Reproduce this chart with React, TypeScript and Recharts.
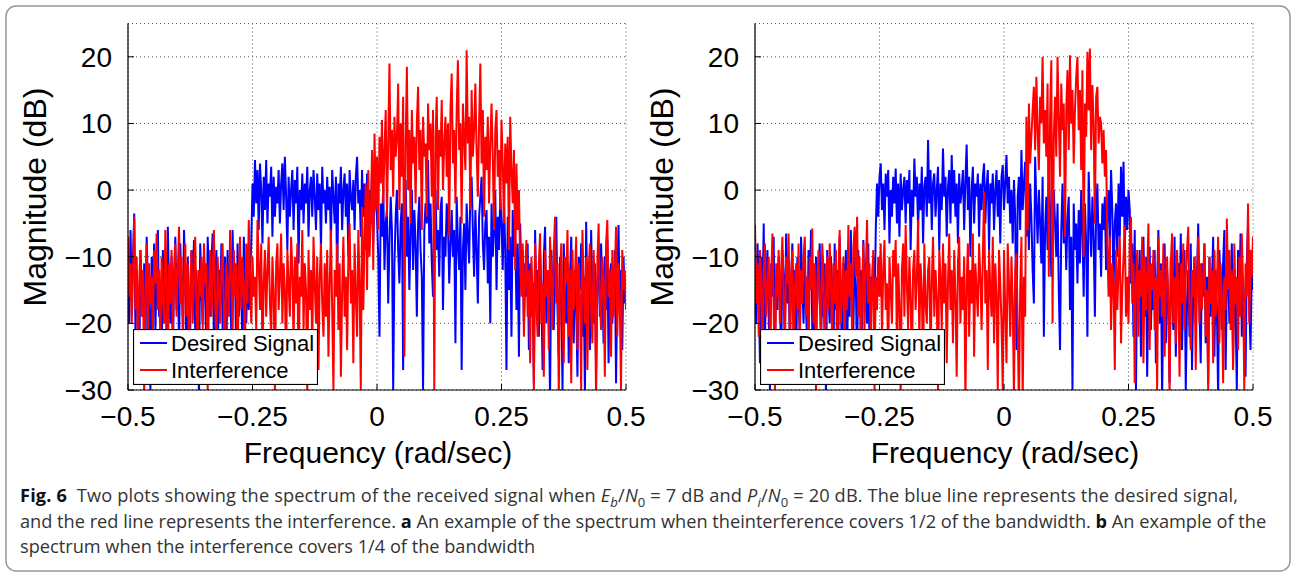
import React from "react";
import { CartesianGrid, Legend, Line, LineChart, XAxis, YAxis } from "recharts";

// frequency grid: -0.5 .. 0.5 rad/sec, 401 bins (each row below = 20 bins = 0.05)
const FREQ_START = -0.5;
const FREQ_STEP = 0.0025;
const X_TICKS = [-0.5, -0.25, 0, 0.25, 0.5];
const Y_TICKS = [-30, -20, -10, 0, 10, 20];

// (a) interference covers 1/2 of the bandwidth
const desiredA = [
  -13, -20, -6, -16, -10, -3.5, -22, -12, -17, -28, -9, -15, -19, -11, -25, -7, -14, -18, -30, -10,
  -16, -8, -21, -12, -6, -19, -14, -27, -9, -17, -11, -23, -5.5, -15, -20, -10, -26, -13, -7, -18,
  -11, -24, -8, -15, -19, -6, -13, -29, -10, -17, -21, -9, -14, -7.5, -22, -12, -18, -31, -8, -15,
  -20, -10, -16, -25, -7, -13, -19, -11, -6.5, -23, -14, -9, -28, -12, -17, -8, -21, -15, -10, -26,
  -9, -17, -13, -22, -6, -15, -11, -29, -8, -19, -12, -16, -24, -7, -14, -20, -10, -18, -13, -8,
  1, -4, 4.5, -2, 3, -6, 4, 0, -8, 2, -3, 4.5, -5, 1, -1, 3.5, -7, 2, -4, 0.5,
  -2, 3, -5, 1, 4, -3, 5, -1, -9, 2, -4, 0, 3, -6, 1.5, -2, 3.5, -11, 0, -3,
  2.5, -5, 1, -2, 3.5, -7, 0, 2, -4, 3, -1, -6, 2.5, -3, 1, -9, 3.5, -2, 0, -5,
  2, -3, 0.5, -8, 3, -1, -5, 2, -14, 1, -2, 3.5, -6, 0, 2.5, -4, 1, -10, 3, -1,
  -3, 1.5, -6, 2, 5, -2, 0, -7, 3, -4, 1, -9, 2.5, -3, 0, -5, 3, -8, 1, -2,
  -4, -10, -22, -2, -7, 1, -12, -5, -3, -17, -8, -1, -6, -30, -11, -4, 0, -9, -14, -5,
  -2, -27, -7, 1.5, -10, -4, -15, -6, 0, -12, -3, -8, -19, -5, -1, -9, -13, -30, -6, -2,
  -5, 4.5, -8, -2, -11, -16, -4, 0, -9, -6, -13, -3, -1, -18, -7, -10, -2, -5, -14, -8,
  -3, -10, -6, -23, -1, -8, -12, -4, -27, -9, -5, -15, -2, -7, -11, 0, 2, -6, -13, -3,
  -9, -17, -4, -1, 2, -8, -12, -5, -3, -14, -7, -20, -2, -10, -6, 0, -15, -4, -9, -1,
  -5, -12, -1.5, -9, -27, -4, -15, -7, -22, -3, -10, -6, -18, -8, -25, -5, -13, -9, -20, -11,
  -16, -8, -24, -11, -19, -14, -29, -6, -17, -12, -22, -9, -15, -27, -10, -5.5, -20, -13, -18, -31,
  -9, -15, -21, -12, -4, -18, -25, -10, -14, -30, -8, -16, -20, -11, -26, -13, -7, -19, -23, -12,
  -17, -28, -10, -15, -8, -22, -13, -31, -4.75, -18, -12, -24, -6, -16, -20, -11, -27, -14, -9, -19,
  -8, -15, -23, -10, -18, -7.5, -26, -13, -11, -20, -16, -9, -29, -14, -5.25, -19, -12, -24, -10, -17,
  -13,
];

const interferenceA = [
  -7, -16, -11, -20, -13, -4, -18, -10, -26, -14, -9, -19, -12, -31, -15, -8, -21, -11, -17, -13,
  -22, -9, -14, -6.5, -18, -12, -24, -10, -16, -20, -6, -13, -29, -11, -17, -9, -21, -14, -8, -19,
  -12, -5.5, -17, -10, -23, -14, -8, -19, -11, -27, -15, -9, -20, -13, -7, -18, -25, -12, -16, -10,
  -21, -8, -14, -11, -30, -16, -9, -19, -13, -6, -17, -24, -10, -15, -20, -12, -8, -18, -26, -11,
  -14, -19, -6, -12, -22, -9, -16, -11, -28, -13, -7, -18, -10, -15, -23, -8, -17, -4.5, -12, -20,
  -10, -16, -13, -21, -4.5, -11, -18, -8, -25, -14, -9, -19, -12, -7, -17, -22, -10, -15, -30, -11,
  -8, -18, -13, -6.5, -20, -11, -15, -26, -9, -14, -19, -7, -12, -23, -10, -17, -8, -29, -13, -16,
  -6, -21, -11, -15, -31, -9, -18, -12, -24, -7, -14, -20, -10, -27, -13, -8, -17, -22, -11, -19,
  -9, -25, -14, -6, -18, -30, -12, -16, -8, -21, -11, -28, -15, -7, -19, -13, -24, -10, -5, -17,
  -12, -26, -8, -16, -22, -6, -14, -30, -2.5, -18, -7, 1, -15, 3, -10, -4, 6, -12, 8.5, -3,
  5, -6, 8, 1, 10.5, -2, 6, 12, -4, 7, 19, 3, 9, -1, 11, 5, 8, 16, -3, 10,
  2, 14, -25, 7, 18.5, 0, 9, -5, 12, 4, 8, -2, 10, 15.5, 3, 9, -6, 11, 5, 7,
  -4, 13, 6, 10, -1, 12, -30, 8, 14, -3, 9, 5, 13.5, 0, 7, 11, 2, 10, -7, 12,
  17.5, 4, 9, -2, 12, 19.5, 6, 10, -5, 13, 8, 3, 21, 7, 11, -3, 15, 5, 9, 16,
  6, -1, 10, 19, 4, 12, -4, 8, 3, 11, -2, 7, 13, 5, -6, 9, 12, 2, 6, -3,
  10.5, 4, -5, 7, 1, 8, -9, 11, 3, -2, 6, -12, 4, -6, 0, -11, -16, -8, -22, -13,
  -7.5, -19, -12, -26, -10, -15, -30, -8, -17, -22, -11, -6.5, -20, -14, -28, -9, -16, -12, -24, -7,
  -13, -21, -9, -4, -17, -11, -31, -15, -8, -19, -26, -10, -14, -6, -22, -12, -29, -9, -18, -13,
  -7, -24, -11, -16, -30, -6, -14, -20, -10, -27, -12, -8, -18, -23, -9, -15, -32, -11, -5, -17,
  -21, -10, -14, -28, -8, -4.5, -16, -12, -25, -9, -19, -13, -5.5, -22, -11, -17, -30, -9, -15, -12,
  -18,
];

// (b) interference covers 1/4 of the bandwidth
const desiredB = [
  -12, -20, -8, -15, -26, -10, -17, -5, -22, -13, -9, -19, -30, -11, -16, -7, -24, -14, -18, -10,
  -15, -27, -9, -13, -21, -6.5, -17, -11, -25, -14, -8, -19, -12, -29, -10, -16, -22, -7, -14, -20,
  -11, -18, -24, -9, -15, -6, -21, -13, -28, -10, -17, -12, -8, -23, -15, -19, -11, -31, -9, -16,
  -20, -10, -14, -26, -8, -18, -12, -22, -7, -16, -29, -11, -15, -9, -24, -13, -19, -6, -17, -21,
  -10, -14, -27, -9, -18, -12, -23, -7.5, -16, -11, -20, -8, -25, -13, -15, -10, -19, -6, 1, -4,
  2, 4, -3, 1, -6, 2.5, -1, 3, -8, 0, -4, 2, -2, 3.25, -5, 1, -7, 2.5, -3, 0,
  2, -5, 1.5, -2, 3, -9, 0, -4, 4.75, -1, 2, -6, 1, -3, 3.5, -8, 0.5, 2, -4, 7.5,
  -2, 3, -6, 1, 2.5, -4, 0, 3.5, -9, 1, -3, 6.25, -1, 2, -7, 0.5, 3, -5, 5.25, -2,
  3, -4, 1, -8, 2.5, -2, 0, 3, -6, 1.5, 6.85, -3, 2, -10, 0, 3.5, -5, 1, -1, 2.5,
  -7, 1, -3, 2, 4, -5, 0.5, 3, -9, 1, -2, 2.5, -6, 0, 3, -4, 1.5, -8, 2, 3.75,
  -3, 1, 5.25, -2, 2, -5, 0, -8, 1.5, -4, -24, -1, 2, -6, 6, -3, 1, 4.25, -7, -2,
  -9, 1, -4, -12, -17, 5, -2, -8, 0, -5, -11, 2, -22, -6, -1, -9, 4, -3, -13, -7,
  0, -5, -10, -2, -15, -24, -6, 1, -8, -3, -12, -4, -1, -18, -7, -30, -2, -9, -5, -14,
  -3, -11, 0, -6, -16, -2, -8, -22, 2.75, -4, -10, -1, -7, -19, -3, 1, -9, -5, -13, -2,
  -6, -1, -12, -4, 0, -8, 3, -3, -15, -5, -2, -10, 1, -7, 3.5, -4, 4.25, -9, -1, -6,
  0, -3, -14, -8, -22, -6, -30, -11, -17, -9, -25, -13, -7, -19, -10, -28, -15, -8.5, -21, -12,
  -18, -9, -26, -14, -6, -20, -11, -31, -16, -8, -23, -12, -17, -29, -10, -15, -21, -7, -25, -13,
  -11, -19, -6.5, -24, -14, -9, -30, -17, -12, -22, -8, -27, -15, -10, -20, -13, -5, -18, -26, -11,
  -16, -8, -23, -13, -29, -10, -19, -14, -7, -25, -12, -18, -31, -9, -15, -21, -11, -6, -27, -14,
  -10, -20, -15, -8, -26, -12, -18, -30, -9, -16, -6.5, -22, -13, -19, -28, -11, -5, -17, -24, -12,
  -15,
];

const interferenceB = [
  -5.25, -17, -11, -22, -9, -14, -27, -12, -8, -19, -15, -10, -24, -13, -6.5, -18, -30, -11, -16, -9,
  -20, -12, -7, -16, -25, -10, -14, -6.5, -21, -13, -9, -28, -15, -11, -18, -8, -23, -12, -17, -10,
  -7, -19, -13, -26, -10, -15, -5.75, -20, -11, -31, -14, -9, -17, -22, -8, -12, -27, -16, -10, -18,
  -8, -14, -23, -11, -17, -9, -29, -13, -6, -20, -15, -10, -25, -12, -18, -5.25, -16, -11, -22, -9,
  -5.5, -13, -4, -19, -10, -28, -15, -8, -21, -12, -4.5, -17, -11, -24, -14, -9, -30, -13, -18, -10,
  -16, -8, -22, -12, -7.5, -18, -14, -26, -10, -15, -20, -9, -13, -7.5, -24, -11, -17, -31, -12, -8,
  -19, -5.25, -14, -21, -10, -16, -27, -12, -9, -18, -13, -4.5, -23, -11, -15, -29, -8, -17, -20, -12,
  -10, -25, -14, -7, -19, -12, -16, -30, -9, -13, -21, -8, -17, -11, -26, -14, -6.5, -18, -12, -23,
  -9, -16, -28, -11, -7, -20, -13, -18, -10, -32, -14, -8, -22, -12, -17, -6.5, -25, -11, -15, -19,
  -8, -13, -21, -10, -0.25, -17, -12, -27, -9, -15, -19, -7, -23, -11, -16, -30, -9, -14, -20, -30,
  -9, -18, -26, -8, -14, -22, -10, -17, -31, -12, -9.5, -20, -33, -15, -7, -32, -13, -19, 11, -6,
  13, 4, 8, 12, 15.5, 6, 17, 9, 3, 14, 10, 20, 7, 12, 5, 16, -13, 11, 19.5, -20,
  8, 14, 5, 20, 11, 2, 16, 9, 13, -7, 12, 18, 6, 20.25, 10, 15, 4, 12, 17, 20,
  9, 15, 3, 18, -10, 13, 8, 20.75, 12, 21.25, 6, 15.75, 10, -5, 14, 15.5, 7, 11, 10, 4,
  9, 2, 6, -8, -16, -7, -21, -11, -14, -27, -9, -18, -12, -7, -23, -15, -10, -5.25, -19, -13,
  -20, -8, -4, -17, -11, -29, -14, -9, -22, -12, -16, -7, -26, -10, -18, -13, -5, -24, -11, -15,
  -9, -21, -13, -30, -7, -16, -12, -19, -8, -25, -14, -10, -17, -31, -11, -6.5, -20, -13, -23, -9,
  -15, -28, -11, -17, -8, -21, -13, -9, -5.5, -19, -24, -12, -16, -10, -27, -14, -7, -20, -11, -18,
  -13, -8, -22, -15, -30, -10, -17, -12, -26, -9, -19, -14, -7, -23, -11, -16, -29, -13, -18, -4.25,
  -15, -9, -21, -12, -27, -8, -17, -13, -24, -10, -19, -6.5, -14, -30, -11, -16, -2, -20, -9, -13,
  -7,
];

type Row = { f: number; desired: number; interference: number };

const toRows = (desired: number[], interference: number[]): Row[] =>
  desired.map((d, i) => ({
    f: Math.round((FREQ_START + i * FREQ_STEP) * 10000) / 10000,
    desired: d,
    interference: interference[i],
  }));

const rowsA = toRows(desiredA, interferenceA);
const rowsB = toRows(desiredB, interferenceB);

const FONT = "'Liberation Sans', Arial, Helvetica, sans-serif";
const CAPTION_FONT = "'Open Sans', 'Noto Sans', sans-serif";

const fmt = (v: number) => (v < 0 ? "\u2212" + Math.abs(v) : String(v));

function LegendBox() {
  return (
    <svg width={185} height={56} style={{ display: "block" }}>
      <rect x={0.5} y={0.5} width={184} height={55} fill="#fff" stroke="#000" strokeWidth={1.2} />
      <line x1={7} x2={34} y1={14} y2={14} stroke="#0000ff" strokeWidth={2} />
      <text x={38} y={22} fontSize={22} fontFamily={FONT} fill="#000">
        Desired Signal
      </text>
      <line x1={7} x2={34} y1={41} y2={41} stroke="#ff0000" strokeWidth={2} />
      <text x={38} y={49} fontSize={22} fontFamily={FONT} fill="#000">
        Interference
      </text>
    </svg>
  );
}

function Panel({ rows, left }: { rows: Row[]; left: number }) {
  const tickStyle = { fill: "#000", fontSize: 28, fontFamily: FONT };
  return (
    <div style={{ position: "absolute", left, top: 0 }}>
      <LineChart width={660} height={480} data={rows} margin={{ top: 23.5, right: 34, bottom: 50, left: 68 }}>
        <CartesianGrid xAxisId="b" yAxisId="l" stroke="#555" strokeDasharray="1 3" />
        <XAxis
          xAxisId="b"
          dataKey="f"
          type="number"
          domain={[-0.5, 0.5]}
          ticks={X_TICKS}
          interval={0}
          tickFormatter={fmt}
          tick={tickStyle}
          tickSize={-6}
          tickMargin={22}
          height={40}
          axisLine={{ stroke: "#000", strokeWidth: 1.2 }}
          tickLine={{ stroke: "#000" }}
          allowDataOverflow
        />
        <XAxis
          xAxisId="t"
          orientation="top"
          dataKey="f"
          type="number"
          domain={[-0.5, 0.5]}
          ticks={X_TICKS}
          tick={false}
          tickSize={-6}
          height={0}
          axisLine={{ stroke: "#000", strokeWidth: 1.2 }}
          tickLine={{ stroke: "#000" }}
          allowDataOverflow
        />
        <YAxis
          yAxisId="l"
          type="number"
          domain={[-30, 25]}
          ticks={Y_TICKS}
          interval={0}
          tickFormatter={fmt}
          tick={tickStyle}
          tickSize={-6}
          tickMargin={22}
          width={60}
          axisLine={{ stroke: "#000", strokeWidth: 1.2 }}
          tickLine={{ stroke: "#000" }}
          allowDataOverflow
        />
        <YAxis
          yAxisId="r"
          orientation="right"
          type="number"
          domain={[-30, 25]}
          ticks={Y_TICKS}
          tick={false}
          tickSize={-6}
          width={0}
          axisLine={{ stroke: "#000", strokeWidth: 1.2 }}
          tickLine={{ stroke: "#000" }}
          allowDataOverflow
        />
        <Line
          xAxisId="b"
          yAxisId="l"
          type="linear"
          dataKey="desired"
          name="Desired Signal"
          stroke="#0000ff"
          strokeWidth={2}
          dot={false}
          isAnimationActive={false}
        />
        <Line
          xAxisId="b"
          yAxisId="l"
          type="linear"
          dataKey="interference"
          name="Interference"
          stroke="#ff0000"
          strokeWidth={2}
          dot={false}
          isAnimationActive={false}
        />
        <Legend
          layout="vertical"
          align="center"
          verticalAlign="middle"
          content={() => <LegendBox />}
          wrapperStyle={{ left: 133, top: 329, width: 185, height: 56 }}
        />
      </LineChart>
    </div>
  );
}

const captionLine: React.CSSProperties = {
  position: "absolute",
  left: 20,
  whiteSpace: "nowrap",
  fontFamily: CAPTION_FONT,
  fontSize: 18.2,
  lineHeight: "18px",
  color: "#333",
};

const subStyle: React.CSSProperties = { fontSize: "0.72em", lineHeight: 0 };

export default function App() {
  return (
    <div style={{ position: "absolute", left: 0, top: 0, width: 1292, height: 575, background: "#fff", overflow: "hidden" }}>
      <Panel rows={rowsA} left={0} />
      <Panel rows={rowsB} left={627} />
      <svg width={1292} height={575} style={{ position: "absolute", left: 0, top: 0, pointerEvents: "none" }}>
        <rect x={6} y={6} width={1284} height={565} rx={10} fill="none" stroke="#999" strokeWidth={1.5} />
        <text x={378} y={463} textAnchor="middle" fontSize={30} fontFamily={FONT} fill="#000">
          Frequency (rad/sec)
        </text>
        <text x={1005} y={463} textAnchor="middle" fontSize={30} fontFamily={FONT} fill="#000">
          Frequency (rad/sec)
        </text>
        <text transform="translate(46,197) rotate(-90)" textAnchor="middle" fontSize={32} fontFamily={FONT} fill="#000">
          Magnitude (dB)
        </text>
        <text transform="translate(673,197) rotate(-90)" textAnchor="middle" fontSize={32} fontFamily={FONT} fill="#000">
          Magnitude (dB)
        </text>
      </svg>
      <div style={{ ...captionLine, top: 486, letterSpacing: 0.15 }}>
        <b style={{ color: "#111" }}>Fig. 6</b>&nbsp; Two plots showing the spectrum of the received signal when{" "}
        <i>E</i>
        <sub style={subStyle}><i>b</i></sub>/<i>N</i>
        <sub style={subStyle}>0</sub> = 7 dB and <i>P</i>
        <sub style={subStyle}><i>i</i></sub>/<i>N</i>
        <sub style={subStyle}>0</sub> = 20 dB. The blue line represents the desired signal,
      </div>
      <div style={{ ...captionLine, top: 512 }}>
        and the red line represents the interference. <b style={{ color: "#111" }}>a</b> An example of the spectrum when
        theinterference covers 1/2 of the bandwidth. <b style={{ color: "#111" }}>b</b> An example of the
      </div>
      <div style={{ ...captionLine, top: 537 }}>spectrum when the interference covers 1/4 of the bandwidth</div>
    </div>
  );
}
